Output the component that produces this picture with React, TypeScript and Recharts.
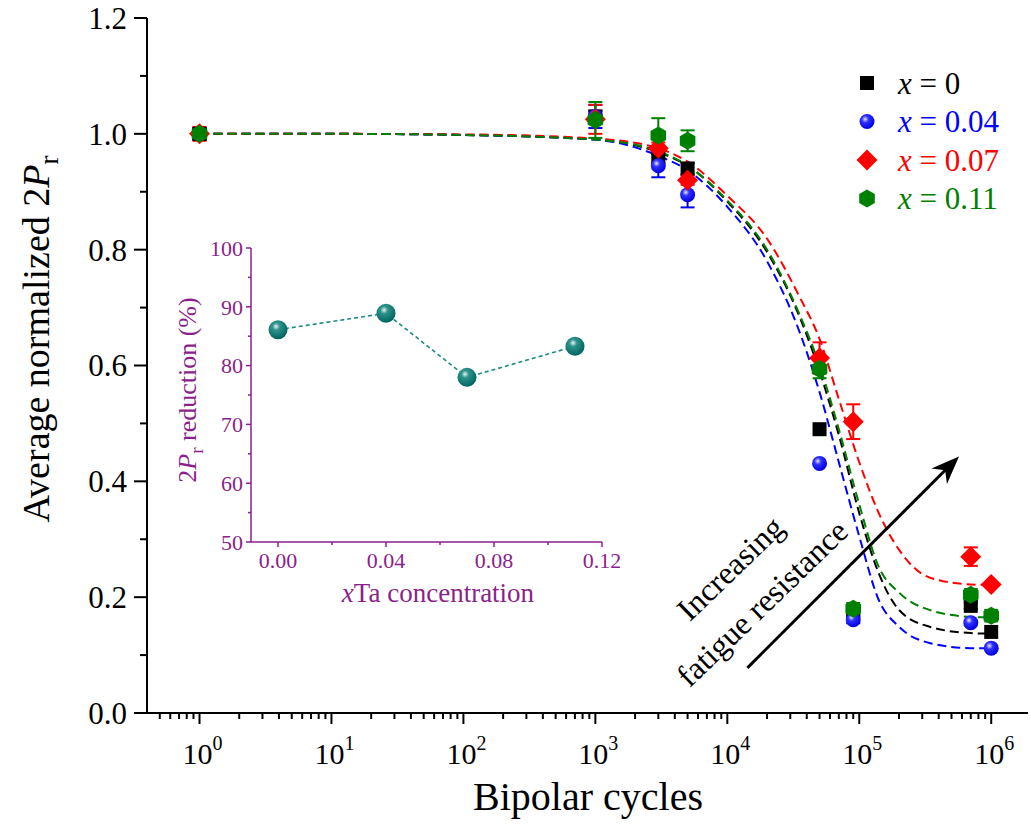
import React from "react";
import {
  ComposedChart,
  ErrorBar,
  Legend,
  Line,
  ReferenceLine,
  Scatter,
  XAxis,
  YAxis,
} from "recharts";

// measured cycles
const cycles = [1, 1e3, 3e3, 5e3, 5e4, 9e4, 7e5, 1e6];

const x0Vals = [1.0, 1.03, 0.96, 0.94, 0.49, 0.175, 0.185, 0.14];
const x0Err = [0.01, 0.01, 0.01, 0.01, 0, 0, 0.005, 0];
const x004Vals = [1.0, 1.03, 0.945, 0.895, 0.431, 0.161, 0.156, 0.112];
const x004Err = [0.01, 0.02, 0.02, 0.022, 0, 0.006, 0, 0];
const x007Vals = [1.0, 1.025, 0.975, 0.92, 0.613, 0.503, 0.27, 0.222];
const x007Err = [0.012, 0.025, 0.01, 0.008, 0.027, 0.03, 0.016, 0];
const x011Vals = [1.0, 1.024, 0.997, 0.988, 0.594, 0.18, 0.204, 0.168];
const x011Err = [0.006, 0.031, 0.03, 0.018, 0.016, 0.01, 0.01, 0.01];

// dashed fit curves
const fitCycles = [1, 10, 100, 1e3, 3e3, 5e3, 1e4, 2e4, 3.5e4, 5e4, 7e4, 1e5, 1.4e5, 2e5, 3.4e5, 7e5, 1e6];
const fitX0 = [1.0, 1.0, 0.998, 0.99, 0.968, 0.945, 0.883, 0.796, 0.686, 0.59, 0.48, 0.345, 0.242, 0.178, 0.149, 0.138, 0.137];
const fitX004 = [1.0, 1.0, 0.998, 0.99, 0.962, 0.937, 0.874, 0.78, 0.66, 0.554, 0.433, 0.305, 0.196, 0.149, 0.121, 0.112, 0.112];
const fitX007 = [1.0, 1.0, 0.999, 0.992, 0.975, 0.952, 0.893, 0.819, 0.72, 0.646, 0.542, 0.433, 0.346, 0.282, 0.234, 0.222, 0.221];
const fitX011 = [1.0, 1.0, 0.998, 0.99, 0.97, 0.945, 0.885, 0.8, 0.69, 0.6, 0.49, 0.36, 0.253, 0.208, 0.178, 0.166, 0.165];

// inset
const taConc = [0, 0.04, 0.07, 0.11];
const prReduction = [86.1, 88.9, 78.0, 83.3];

const xMajorTicks = [1, 10, 100, 1e3, 1e4, 1e5, 1e6];
const xMinorTicks: number[] = [];
for (let d = -1; d <= 6; d++) {
  for (let m = 2; m <= 9; m++) {
    const v = m * Math.pow(10, d);
    if (v > 0.45 && v < 1.9e6) xMinorTicks.push(v);
  }
}
const yTicks = [0, 0.1, 0.2, 0.3, 0.4, 0.5, 0.6, 0.7, 0.8, 0.9, 1.0, 1.1, 1.2];
const insetXTicks = [0, 0.02, 0.04, 0.06, 0.08, 0.1, 0.12];
const insetYTicks = [50, 55, 60, 65, 70, 75, 80, 85, 90, 95, 100];

const BLACK = "#000000";
const BLUE = "#0000ff";
const RED = "#ff0000";
const GREEN = "#008000";
const PURPLE = "#8b1f8b";
const TEAL = "#1b8a84";
const FONT = "'Liberation Serif', 'Times New Roman', serif";

const pts = (vals: number[], errs?: number[], xs = cycles) =>
  xs.map((c, i) => ({ c, v: vals[i], e: errs ? errs[i] : 0 }));

const isDecade = (v: number) => {
  const l = Math.log10(v);
  return Math.abs(l - Math.round(l)) < 1e-6;
};

// ---- markers ----
const Square = (p: any) => (
  <rect x={p.cx - 7} y={p.cy - 7} width={14} height={14} fill={BLACK} />
);
const Ball = (p: any) => (
  <circle cx={p.cx} cy={p.cy} r={7.5} fill="url(#ballBlue)" />
);
const Diamond = (p: any) => (
  <polygon
    points={`${p.cx},${p.cy - 10.5} ${p.cx + 10.5},${p.cy} ${p.cx},${p.cy + 10.5} ${p.cx - 10.5},${p.cy}`}
    fill={RED}
  />
);
const Hexagon = (p: any) => {
  const r = 9;
  const h = r * 0.866;
  return (
    <polygon
      points={`${p.cx},${p.cy - r} ${p.cx + h},${p.cy - r / 2} ${p.cx + h},${p.cy + r / 2} ${p.cx},${p.cy + r} ${p.cx - h},${p.cy + r / 2} ${p.cx - h},${p.cy - r / 2}`}
      fill={GREEN}
    />
  );
};
const TealBall = (p: any) =>
  p.cx == null ? null : (
    <circle key={p.index} cx={p.cx} cy={p.cy} r={9.5} fill="url(#ballTeal)" />
  );

// ---- axis ticks ----
const BottomTick = (p: any) => {
  const v = p.payload.value;
  const major = isDecade(v);
  return (
    <g>
      <line x1={p.x} x2={p.x} y1={p.y} y2={p.y + (major ? 11 : 6)} stroke={BLACK} strokeWidth={2} />
      {major && (
        <text x={p.x + 3} y={p.y + 51} textAnchor="middle" fontSize={30} fill={BLACK}>
          10
          <tspan dy={-14} fontSize={20}>
            {Math.round(Math.log10(v))}
          </tspan>
        </text>
      )}
    </g>
  );
};
const TopTick = (p: any) => {
  const major = isDecade(p.payload.value);
  return <line x1={p.x} x2={p.x} y1={p.y} y2={p.y + (major ? 10 : 6)} stroke={BLACK} strokeWidth={2} />;
};
const LeftTick = (p: any) => {
  const v = p.payload.value;
  const major = Math.round(v * 10) % 2 === 0;
  return (
    <g>
      <line x1={p.x} x2={p.x - (major ? 13 : 7)} y1={p.y} y2={p.y} stroke={BLACK} strokeWidth={2} />
      {major && (
        <text x={p.x - 20} y={p.y} dy="0.35em" textAnchor="end" fontSize={31} fill={BLACK}>
          {v.toFixed(1)}
        </text>
      )}
    </g>
  );
};
const RightTick = (p: any) => {
  const major = Math.round(p.payload.value * 10) % 2 === 0;
  return <line x1={p.x} x2={p.x - (major ? 10 : 7)} y1={p.y} y2={p.y} stroke={BLACK} strokeWidth={2} />;
};

const InsetBottomTick = (p: any) => {
  const v = p.payload.value;
  const major = Math.round(v * 100) % 4 === 0;
  return (
    <g>
      <line x1={p.x} x2={p.x} y1={p.y} y2={p.y + (major ? 5 : 3)} stroke={PURPLE} strokeWidth={1.5} />
      {major && (
        <text x={p.x} y={p.y + 26} textAnchor="middle" fontSize={22} fill={PURPLE}>
          {v.toFixed(2)}
        </text>
      )}
    </g>
  );
};
const InsetTopTick = (p: any) => {
  const major = Math.round(p.payload.value * 100) % 4 === 0;
  return <line x1={p.x} x2={p.x} y1={p.y} y2={p.y + (major ? 5 : 3)} stroke={PURPLE} strokeWidth={1.5} />;
};
const InsetLeftTick = (p: any) => {
  const v = p.payload.value;
  const major = v % 10 === 0;
  return (
    <g>
      <line x1={p.x} x2={p.x - (major ? 5 : 3)} y1={p.y} y2={p.y} stroke={PURPLE} strokeWidth={1.5} />
      {major && (
        <text x={p.x - 8} y={p.y} dy="0.35em" textAnchor="end" fontSize={22} fill={PURPLE}>
          {v}
        </text>
      )}
    </g>
  );
};
const InsetRightTick = (p: any) => {
  const major = p.payload.value % 10 === 0;
  return <line x1={p.x} x2={p.x - (major ? 5 : 3)} y1={p.y} y2={p.y} stroke={PURPLE} strokeWidth={1.5} />;
};

const ArrowShape = (p: any) => {
  const { x1, y1, x2, y2 } = p;
  if ([x1, y1, x2, y2].some((n) => n == null)) return null;
  const a = Math.atan2(y2 - y1, x2 - x1);
  const L = 28;
  const W = 11;
  const bx = x2 - L * Math.cos(a);
  const by = y2 - L * Math.sin(a);
  const nx = -Math.sin(a);
  const ny = Math.cos(a);
  const inner = 0.7;
  const ix = x2 - L * inner * Math.cos(a);
  const iy = y2 - L * inner * Math.sin(a);
  return (
    <g>
      <line x1={x1} y1={y1} x2={ix} y2={iy} stroke={BLACK} strokeWidth={3} />
      <polygon
        points={`${x2},${y2} ${bx + nx * W},${by + ny * W} ${ix},${iy} ${bx - nx * W},${by - ny * W}`}
        fill={BLACK}
      />
    </g>
  );
};

const legendRows = [
  { label: "0", color: BLACK, Shape: Square },
  { label: "0.04", color: BLUE, Shape: Ball },
  { label: "0.07", color: RED, Shape: Diamond },
  { label: "0.11", color: GREEN, Shape: Hexagon },
];

const LegendBox = () => (
  <svg width={190} height={160} style={{ fontFamily: FONT }}>
    {legendRows.map((r, i) => {
      const cy = 21 + i * 38.5;
      return (
        <g key={r.label}>
          <r.Shape cx={17} cy={cy} />
          <text x={48} y={cy} dy="0.35em" fontSize={31} fill={r.color}>
            <tspan fontStyle="italic">x</tspan> = {r.label}
          </text>
        </g>
      );
    })}
  </svg>
);

const axisLine = { stroke: BLACK, strokeWidth: 2 };
const insetAxisLine = { stroke: PURPLE, strokeWidth: 1.5 };

export default function App() {
  const series = [
    { name: "x = 0", color: BLACK, vals: x0Vals, errs: x0Err, fit: fitX0, Shape: Square },
    { name: "x = 0.04", color: BLUE, vals: x004Vals, errs: x004Err, fit: fitX004, Shape: Ball },
    { name: "x = 0.07", color: RED, vals: x007Vals, errs: x007Err, fit: fitX007, Shape: Diamond },
    { name: "x = 0.11", color: GREEN, vals: x011Vals, errs: x011Err, fit: fitX011, Shape: Hexagon },
  ];
  const insetData = pts(prReduction, undefined, taConc);

  return (
    <div style={{ position: "absolute", left: 0, top: 0, width: 1031, height: 825, background: "#fff", fontFamily: FONT }}>
      <svg width={0} height={0} style={{ position: "absolute" }}>
        <defs>
          <radialGradient id="ballBlue" cx="0.38" cy="0.35" r="0.65">
            <stop offset="0" stopColor="#e8e8ff" />
            <stop offset="0.35" stopColor="#3030ff" />
            <stop offset="1" stopColor="#0000e0" />
          </radialGradient>
          <radialGradient id="ballTeal" cx="0.4" cy="0.33" r="0.65">
            <stop offset="0" stopColor="#e6f4f2" />
            <stop offset="0.3" stopColor="#2f938c" />
            <stop offset="1" stopColor="#00665f" />
          </radialGradient>
        </defs>
      </svg>

      <ComposedChart
        width={1031}
        height={825}
        margin={{ top: 18, right: 3, bottom: 0, left: 0 }}
        style={{ fontFamily: FONT }}
      >
        <XAxis
          xAxisId="b"
          dataKey="c"
          type="number"
          scale="log"
          domain={[0.4, 1.9e6]}
          allowDataOverflow
          ticks={[...xMajorTicks, ...xMinorTicks]}
          interval={0}
          tickLine={false}
          tickSize={0}
          tickMargin={0}
          tick={<BottomTick />}
          axisLine={axisLine}
          height={112}
        />
        <XAxis
          xAxisId="t"
          orientation="top"
          dataKey="c"
          type="number"
          scale="log"
          domain={[0.4, 1.9e6]}
          allowDataOverflow
          ticks={[...xMajorTicks, ...xMinorTicks]}
          interval={0}
          tickLine={false}
          tickSize={0}
          tickMargin={0}
          tick={<TopTick />}
          axisLine={axisLine}
          height={0}
        />
        <YAxis
          yAxisId="l"
          dataKey="v"
          type="number"
          domain={[0, 1.2]}
          allowDataOverflow
          ticks={yTicks}
          interval={0}
          tickLine={false}
          tickSize={0}
          tickMargin={0}
          tick={<LeftTick />}
          axisLine={axisLine}
          width={147}
        />
        <YAxis
          yAxisId="r"
          orientation="right"
          dataKey="v"
          type="number"
          domain={[0, 1.2]}
          allowDataOverflow
          ticks={yTicks}
          interval={0}
          tickLine={false}
          tickSize={0}
          tickMargin={0}
          tick={<RightTick />}
          axisLine={axisLine}
          width={0}
        />

        {series.map((s) => (
          <Line
            key={"fit" + s.name}
            xAxisId="b"
            yAxisId="l"
            data={pts(s.fit, undefined, fitCycles)}
            dataKey="v"
            type="monotone"
            stroke={s.color}
            strokeWidth={2}
            strokeDasharray="9 5"
            dot={false}
            activeDot={false}
            legendType="none"
            isAnimationActive={false}
          />
        ))}
        {series.map((s) => (
          <Scatter
            key={s.name}
            name={s.name}
            xAxisId="b"
            yAxisId="l"
            data={pts(s.vals, s.errs)}
            dataKey="v"
            fill={s.color}
            shape={(p: any) => <s.Shape cx={p.cx} cy={p.cy} />}
            isAnimationActive={false}
          >
            <ErrorBar dataKey="e" direction="y" width={7} stroke={s.color} strokeWidth={2} />
          </Scatter>
        ))}

        <ReferenceLine
          xAxisId="b"
          yAxisId="l"
          segment={[
            { x: 1.42e4, y: 0.078 },
            { x: 5.7e5, y: 0.443 },
          ]}
          shape={<ArrowShape />}
        />

        <Legend
          layout="vertical"
          align="center"
          verticalAlign="middle"
          wrapperStyle={{ position: "absolute", left: 850, top: 62, width: 190, height: 160 }}
          content={() => <LegendBox />}
        />

        <text x={588} y={810} textAnchor="middle" fontSize={40} fill={BLACK}>
          Bipolar cycles
        </text>
        <text
          x={49}
          y={339}
          transform="rotate(-90 49 339)"
          textAnchor="middle"
          fontSize={38}
          fill={BLACK}
        >
          Average normalized 2<tspan fontStyle="italic">P</tspan>
          <tspan dy={9} fontSize={27}>r</tspan>
        </text>
      </ComposedChart>

      <svg
        width={1031}
        height={825}
        style={{ position: "absolute", left: 0, top: 0, pointerEvents: "none", fontFamily: FONT }}
      >
        <text x={730} y={568} dy="0.35em" textAnchor="middle" fontSize={32} transform="rotate(-44 730 568)">
          Increasing
        </text>
        <text x={762} y={603} dy="0.35em" textAnchor="middle" fontSize={32} transform="rotate(-44 762 603)">
          fatigue resistance
        </text>
      </svg>

      <div style={{ position: "absolute", left: 160, top: 230 }}>
        <ComposedChart
          width={460}
          height={390}
          data={insetData}
          margin={{ top: 18, right: 18, bottom: 0, left: 0 }}
          style={{ fontFamily: FONT }}
        >
          <XAxis
            xAxisId="b"
            dataKey="c"
            type="number"
            domain={[-0.01, 0.12]}
            allowDataOverflow
            ticks={insetXTicks}
            interval={0}
            tickLine={false}
            tickSize={0}
            tickMargin={0}
            tick={<InsetBottomTick />}
            axisLine={insetAxisLine}
            height={78}
          />
          <XAxis
            xAxisId="t"
            orientation="top"
            dataKey="c"
            type="number"
            domain={[-0.01, 0.12]}
            allowDataOverflow
            ticks={insetXTicks}
            interval={0}
            tickLine={false}
            tickSize={0}
            tickMargin={0}
            tick={<InsetTopTick />}
            axisLine={insetAxisLine}
            height={0}
          />
          <YAxis
            yAxisId="l"
            type="number"
            domain={[50, 100]}
            allowDataOverflow
            ticks={insetYTicks}
            interval={0}
            tickLine={false}
            tickSize={0}
            tickMargin={0}
            tick={<InsetLeftTick />}
            axisLine={insetAxisLine}
            width={91}
          />
          <YAxis
            yAxisId="r"
            orientation="right"
            type="number"
            domain={[50, 100]}
            allowDataOverflow
            ticks={insetYTicks}
            interval={0}
            tickLine={false}
            tickSize={0}
            tickMargin={0}
            tick={<InsetRightTick />}
            axisLine={insetAxisLine}
            width={0}
          />
          <Line
            xAxisId="b"
            yAxisId="l"
            dataKey="v"
            type="linear"
            stroke={TEAL}
            strokeWidth={1.6}
            strokeDasharray="4 3"
            dot={<TealBall />}
            activeDot={false}
            isAnimationActive={false}
          />
          <text x={278} y={372} textAnchor="middle" fontSize={27} fill={PURPLE}>
            <tspan fontStyle="italic">x</tspan>Ta concentration
          </text>
          <text
            x={36}
            y={160}
            transform="rotate(-90 36 160)"
            textAnchor="middle"
            fontSize={26}
            fill={PURPLE}
          >
            2<tspan fontStyle="italic">P</tspan>
            <tspan dy={7} fontSize={19}>r</tspan>
            <tspan dy={-7}> reduction (%)</tspan>
          </text>
        </ComposedChart>
      </div>
    </div>
  );
}
